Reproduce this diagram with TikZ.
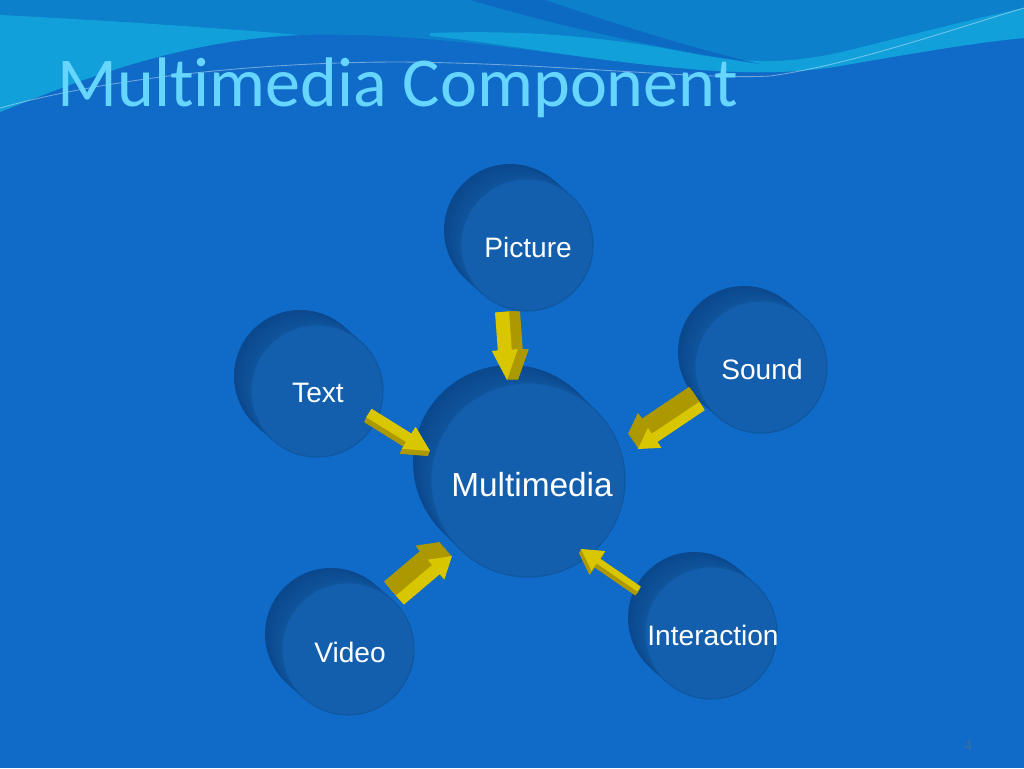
\documentclass[tikz,border=0pt]{standalone}
\usepackage{fontspec}
\setmainfont{Liberation Sans}
\newfontfamily\titlefont[Ligatures={NoCommon}]{Carlito}
\newfontfamily\numfont{Liberation Serif}
\usetikzlibrary{calc}
\definecolor{bodyblue}{HTML}{0F6BC7}
\definecolor{topmid}{HTML}{0C80CA}
\definecolor{swcyan}{HTML}{12A0DB}
\definecolor{swdark}{HTML}{0C6AC3}
\definecolor{titlecol}{HTML}{66D6FF}
\definecolor{discfront}{HTML}{135FAD}
\definecolor{discrim}{HTML}{0F569F}
\definecolor{sidemid}{HTML}{0F549C}
\definecolor{sidedark}{HTML}{0B488D}
\definecolor{ylight}{HTML}{D8C600}
\definecolor{ydark}{HTML}{AC9800}
\definecolor{numcol}{HTML}{3A6EA6}
\tikzset{
  disclabel/.style={text=white,font=\fontsize{16}{18}\selectfont,inner sep=0pt},
  biglabel/.style={text=white,font=\fontsize{19}{22}\selectfont,inner sep=0pt},
}
% disc: name, cx, cy, r, ox, oy
\newcommand\mydisc[6]{%
  \foreach \k in {0,...,24}{%
    \pgfmathsetmacro\ff{\k/24}%
    \pgfmathsetmacro\pp{100*(1-\ff)}%
    \fill[sidedark!\pp!sidemid] ({#2+#5*(1-\ff)},{#3+#6*(1-\ff)}) circle[radius=#4];
  }%
  \fill[discfront,draw=discrim,line width=0.6pt] (#2,#3) circle[radius=#4];
  \coordinate (#1) at (#2,#3);
}
\newcommand\arrowpath[4]{($(#1)!#3!90:(#2)$) -- ($(H)!#3!90:(#2)$) -- ($(H)!#4!90:(#2)$) -- (#2) -- ($(H)!#4!-90:(#2)$) -- ($(H)!#3!-90:(#2)$) -- ($(#1)!#3!-90:(#2)$) -- cycle}
% yellow 3D block arrow: tail, tip, shaft half width, head half width, head length, extrusion dx, dy
\newcommand\yarrow[7]{%
  \coordinate (H) at ($(#2)!#5!(#1)$);
  \foreach \k in {1,...,16}{%
    \begin{scope}[transform canvas={shift={({#6*\k/16},{#7*\k/16})}}]
      \fill[ydark] \arrowpath{#1}{#2}{#3}{#4};
    \end{scope}
  }%
  \fill[ylight] \arrowpath{#1}{#2}{#3}{#4};
}
\begin{document}
\begin{tikzpicture}[x=0.02cm,y=-0.02cm]
\useasboundingbox (0,0) rectangle (1024,768);
\fill[bodyblue] (0,0) rectangle (1024,768);
% header
\fill[topmid] (0,0) -- (1024,0) -- (1024,38) .. controls (980,42) and (920,52) .. (840,66) .. controls (780,76) and (720,73) .. (640,64) .. controls (520,50) and (420,32) .. (300,35) .. controls (180,40) and (80,80) .. (0,112) -- cycle;
\fill[swcyan] (0,15) .. controls (100,20) and (220,28) .. (300,35) .. controls (180,40) and (80,80) .. (0,112) -- cycle;
\fill[swcyan] (430,33) .. controls (520,30) and (600,35) .. (700,55) .. controls (760,65) and (800,62) .. (850,50) .. controls (930,30) and (990,15) .. (1024,8) -- (1024,38) .. controls (980,42) and (920,52) .. (840,66) .. controls (780,76) and (720,73) .. (640,64) .. controls (560,55) and (490,42) .. (430,36) -- cycle;
\fill[swdark] (470,0) -- (545,0) .. controls (610,22) and (690,48) .. (760,64) .. controls (680,52) and (580,32) .. (470,0) -- cycle;
\draw[white,opacity=0.4,line width=0.5pt] (0,108) .. controls (100,80) and (250,62) .. (400,62) .. controls (550,63) and (700,80) .. (770,76) .. controls (850,65) and (950,30) .. (1024,8);
\node[anchor=base west,inner sep=0pt,text=titlecol,font=\titlefont\fontsize{39.9}{44}\selectfont] (title) at (57,106) {Multimedia Component};
% discs
\mydisc{picture}{527}{245}{66}{-17}{-15}
\mydisc{sound}{761}{367}{66}{-17}{-15}
\mydisc{text}{317}{391}{66}{-17}{-15}
\mydisc{video}{348}{649}{66}{-17}{-15}
\mydisc{interaction}{711}{633}{66}{-17}{-15}
\mydisc{multimedia}{528}{480}{97}{-18}{-18}
% labels
\node[disclabel] (lpicture) at (528,247) {Picture};
\node[disclabel] (lsound) at (762,369) {Sound};
\node[disclabel] (ltext) at (318,393) {Text};
\node[disclabel] (lvideo) at (350,652) {Video};
\node[disclabel] (linteraction) at (713,635) {Interaction};
\node[biglabel] (lmultimedia) at (532,485) {Multimedia};
% arrow end points
\coordinate (pT) at (502,312); \coordinate (pH) at (507,380);
\coordinate (tT) at (369,413); \coordinate (tH) at (430,451);
\coordinate (sT) at (702,406); \coordinate (sH) at (638,449);
\coordinate (vT) at (400,600); \coordinate (vH) at (452,556);
\coordinate (iT) at (639,589); \coordinate (iH) at (581,549);
\yarrow{pT}{pH}{0.14cm}{0.26cm}{0.6cm}{11}{0}
\yarrow{tT}{tH}{0.1cm}{0.26cm}{0.5cm}{-2}{5}
\yarrow{sT}{sH}{0.1cm}{0.24cm}{0.4cm}{-10}{-15}
\yarrow{vT}{vH}{0.12cm}{0.26cm}{0.42cm}{-12}{-14}
\yarrow{iT}{iH}{0.06cm}{0.24cm}{0.42cm}{-2}{4}
% page number
\node[text=numcol,font=\numfont\fontsize{9}{11}\selectfont,inner sep=0pt] (pagenum) at (968,745) {4};
\end{tikzpicture}
\end{document}
